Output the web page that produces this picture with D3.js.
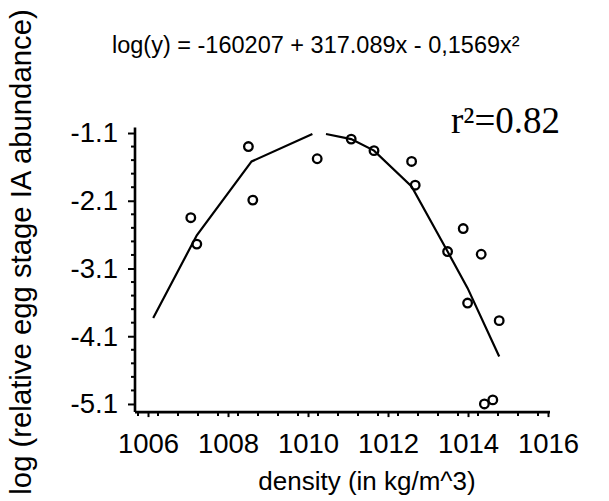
<!DOCTYPE html>
<html><head><meta charset="utf-8">
<script src="https://cdn.jsdelivr.net/npm/d3@7"></script>
<style>html,body{margin:0;padding:0;background:#fff;}svg{display:block;}</style>
</head><body>
<script>
// Observed data points (density, log relative abundance)
const densityX = [1007.07, 1007.22, 1008.51, 1008.62, 1010.23, 1011.08, 1011.65, 1012.59, 1012.68, 1013.88, 1013.49, 1014.33, 1013.99, 1014.78, 1014.41, 1014.62];
const logAbund = [-2.35, -2.74, -1.30, -2.09, -1.48, -1.19, -1.36, -1.52, -1.87, -2.51, -2.85, -2.89, -3.61, -3.87, -5.10, -5.04];
// Fitted curve vertices (null = gap in the drawn line)
const fitX = [1006.13, 1007.22, 1008.59, 1010.11, null, 1010.45, 1011.08, 1011.65, 1012.59, 1013.49, 1013.99, 1014.78];
const fitY = [-3.83, -2.61, -1.52, -1.115, null, -1.115, -1.19, -1.36, -1.89, -2.85, -3.39, -4.40];
const xTicks = [1006, 1008, 1010, 1012, 1014, 1016];
const yTicks = [-5.1, -4.1, -3.1, -2.1, -1.1];
const titleText = "log(y) = -160207 + 317.089x - 0,1569x²";
const r2Text = "r²=0.82";
const xLabel = "density (in kg/m^3)";
const yLabel = "log (relative egg stage IA abundance)";

const W = 609, H = 501;
const svg = d3.select("body").append("svg").attr("width", W).attr("height", H);

const x = d3.scaleLinear().domain([1005.675, 1016.05]).range([135, 550]);
const y = d3.scaleLinear().domain([-5.22, -1.02]).range([412.1, 127.6]);

const font = "'Liberation Sans', Arial, sans-serif";

// X axis
const xMinor = d3.range(1005.75, 1016.01, 0.5).map(v => +v.toFixed(2)).filter(v => !xTicks.includes(v));
const xAxis = svg.append("g").attr("transform", `translate(0,${y(-5.22)})`)
  .call(d3.axisBottom(x).tickValues(xTicks).tickSize(5).tickPadding(16).tickFormat(d3.format("d")));
xAxis.select(".domain").attr("d", `M${x.range()[0]},0H${x.range()[1]}`).attr("stroke", "#000").attr("stroke-width", 2.6);
xAxis.selectAll(".tick line").attr("stroke-width", 2);
xAxis.selectAll(".tick text").attr("font-family", font).attr("font-size", 27.5).attr("fill", "#000");
svg.append("g").attr("transform", `translate(0,${y(-5.22)})`)
  .selectAll("line").data(xMinor).join("line")
  .attr("x1", d => x(d)).attr("x2", d => x(d)).attr("y1", 0).attr("y2", 4)
  .attr("stroke", "#000").attr("stroke-width", 2);

// Y axis
const yMinor = d3.range(-5.1, -1.05, 0.2).map(v => +v.toFixed(2)).filter(v => !yTicks.some(t => Math.abs(t - v) < 1e-6));
const yAxis = svg.append("g").attr("transform", `translate(${x(1005.675)},0)`)
  .call(d3.axisLeft(y).tickValues(yTicks).tickSize(7).tickPadding(10).tickFormat(d => d.toFixed(1)));
yAxis.select(".domain").attr("d", `M0,${y.range()[0]}V${y.range()[1]}`).attr("stroke", "#000").attr("stroke-width", 2.6);
yAxis.selectAll(".tick line").attr("stroke-width", 2);
yAxis.selectAll(".tick text").attr("font-family", font).attr("font-size", 27.5).attr("fill", "#000");
svg.append("g").attr("transform", `translate(${x(1005.675)},0)`)
  .selectAll("line").data(yMinor).join("line")
  .attr("x1", -4).attr("x2", 0).attr("y1", d => y(d)).attr("y2", d => y(d))
  .attr("stroke", "#000").attr("stroke-width", 2);

// Fitted curve
const fitPts = fitX.map((v, i) => [v, fitY[i]]);
const line = d3.line().defined(d => d[0] !== null && d[1] !== null).x(d => x(d[0])).y(d => y(d[1]));
svg.append("path").datum(fitPts).attr("d", line)
  .attr("fill", "none").attr("stroke", "#000").attr("stroke-width", 2.2);

// Points
svg.append("g").selectAll("circle").data(densityX.map((v, i) => [v, logAbund[i]])).join("circle")
  .attr("cx", d => x(d[0])).attr("cy", d => y(d[1])).attr("r", 4.3)
  .attr("fill", "none").attr("stroke", "#000").attr("stroke-width", 2.3);

// Texts
svg.append("text").attr("x", 112).attr("y", 53).attr("font-family", font).attr("font-size", 23.5).attr("fill", "#000").text(titleText);
svg.append("text").attr("x", 451).attr("y", 133).attr("font-family", "'Liberation Serif', 'Times New Roman', serif").attr("font-size", 37).attr("fill", "#000").text(r2Text);
svg.append("text").attr("x", 367).attr("y", 490).attr("text-anchor", "middle").attr("font-family", font).attr("font-size", 26).attr("fill", "#000").text(xLabel);
svg.append("text").attr("transform", "translate(31,252) rotate(-90)").attr("text-anchor", "middle").attr("font-family", font).attr("font-size", 29.3).attr("fill", "#000").text(yLabel);
</script>
</body></html>
